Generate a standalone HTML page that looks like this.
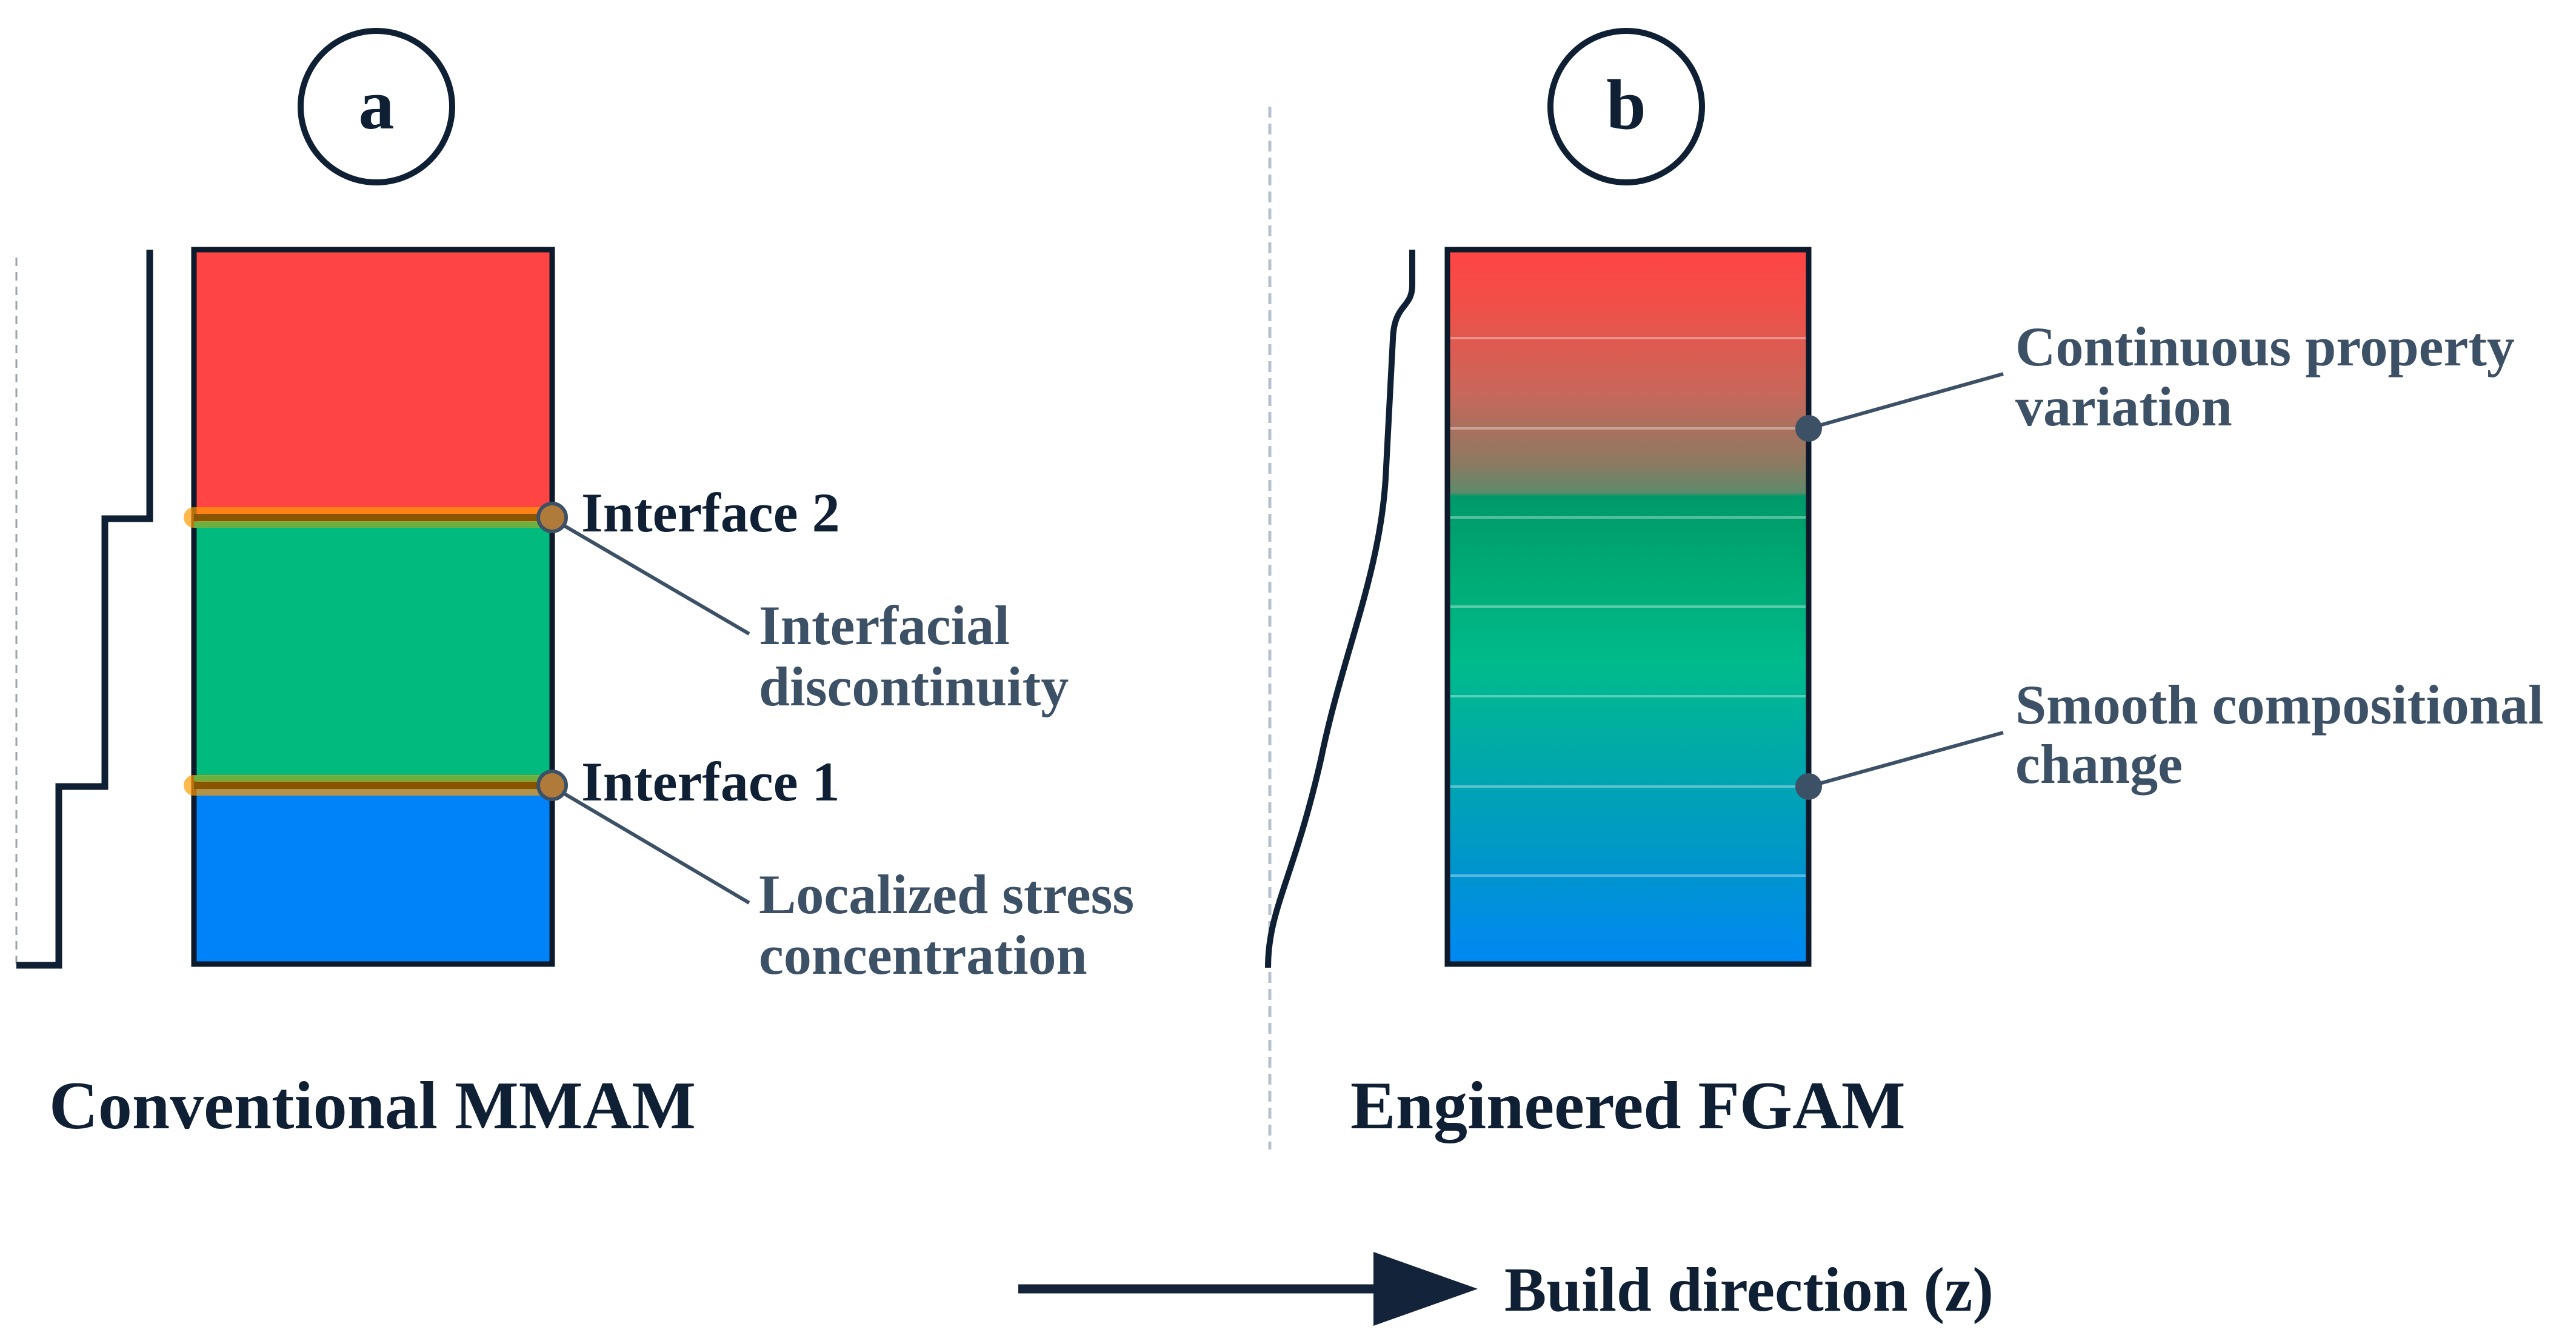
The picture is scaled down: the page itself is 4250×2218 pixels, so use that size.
<!DOCTYPE html>
<html><head><meta charset="utf-8"><style>
html,body{margin:0;padding:0;background:#fff;}
svg{display:block;}
text{font-family:"Liberation Serif",serif;font-weight:bold;}
</style></head><body>
<svg width="4250" height="2218" viewBox="0 0 4250 2218" xmlns="http://www.w3.org/2000/svg">
<defs>
<linearGradient id="g" x1="0" y1="0" x2="0" y2="1">
<stop offset="0" stop-color="#ff4444"/>
<stop offset="0.08" stop-color="#f05048"/>
<stop offset="0.2" stop-color="#c8675a"/>
<stop offset="0.3" stop-color="#8c7a62"/>
<stop offset="0.34" stop-color="#5e8a6a"/>
<stop offset="0.345" stop-color="#00996a"/>
<stop offset="0.45" stop-color="#00aa74"/>
<stop offset="0.58" stop-color="#00bb8c"/>
<stop offset="0.72" stop-color="#00a8ac"/>
<stop offset="0.86" stop-color="#0096cc"/>
<stop offset="1" stop-color="#0088f4"/>
</linearGradient>
</defs>

<circle cx="621" cy="176" r="125" fill="#fff" stroke="#0f2035" stroke-width="10"/>
<text x="621" y="212" font-size="118" fill="#0f2035" text-anchor="middle">a</text>
<circle cx="2683" cy="176" r="125" fill="#fff" stroke="#0f2035" stroke-width="10"/>
<text x="2683" y="212" font-size="118" fill="#0f2035" text-anchor="middle">b</text>

<line x1="27" y1="425" x2="27" y2="1590" stroke="#9aa3ad" stroke-width="3" stroke-dasharray="14,10"/>
<polyline points="247,412 247,856 173,856 173,1298 97,1298 97,1593 27,1593" fill="none" stroke="#0f2035" stroke-width="11"/>
<rect x="320" y="412" width="591" height="444" fill="#ff4444"/>
<rect x="320" y="856" width="591" height="442" fill="#00ba7e"/>
<rect x="320" y="1298" width="591" height="293" fill="#0083f8"/>
<rect x="320" y="412" width="591" height="1179" fill="none" stroke="#0d1a2c" stroke-width="9"/>
<g>
<line x1="320" y1="854" x2="908" y2="854" stroke="#ff9a00" stroke-opacity="0.7" stroke-width="34" stroke-linecap="round"/>
<line x1="320" y1="854" x2="908" y2="854" stroke="#8a5500" stroke-width="12"/>
<rect x="320" y="861" width="588" height="10" fill="#6ab040"/>
<line x1="320" y1="1296" x2="908" y2="1296" stroke="#ff9a00" stroke-opacity="0.7" stroke-width="34" stroke-linecap="round"/>
<line x1="320" y1="1296" x2="908" y2="1296" stroke="#8a5500" stroke-width="12"/>
<rect x="320" y="1280" width="588" height="9" fill="#6ab040"/>
</g>
<line x1="911" y1="856" x2="1236" y2="1046" stroke="#3d5166" stroke-width="6"/>
<line x1="911" y1="1298" x2="1236" y2="1490" stroke="#3d5166" stroke-width="6"/>
<circle cx="911" cy="854" r="23" fill="#b07a3a" stroke="#3d5166" stroke-width="6"/>
<circle cx="911" cy="1296" r="23" fill="#b07a3a" stroke="#3d5166" stroke-width="6"/>

<text x="959" y="877" font-size="92" fill="#0f2035">Interface 2</text>
<text x="959" y="1321" font-size="92" fill="#0f2035">Interface 1</text>
<text font-size="92" fill="#3d5166"><tspan x="1252" y="1063">Interfacial</tspan><tspan x="1252" y="1164">discontinuity</tspan></text>
<text font-size="92" fill="#3d5166"><tspan x="1252" y="1507">Localized stress</tspan><tspan x="1252" y="1607">concentration</tspan></text>
<text x="81" y="1862" font-size="112" fill="#0f2035">Conventional MMAM</text>

<line x1="2095" y1="176" x2="2095" y2="1897" stroke="#b4c2d0" stroke-width="5" stroke-dasharray="18,10"/>
<path d="M2330,412 L2330,470 C2330,510 2300,500 2298,560 L2286,790 C2276,950 2215,1080 2180,1250 C2135,1450 2092,1500 2092,1597" fill="none" stroke="#0f2035" stroke-width="10"/>
<rect x="2388" y="412" width="596" height="1179" fill="url(#g)"/>
<g stroke="#ffffff" stroke-opacity="0.35" stroke-width="4">
<line x1="2392" y1="558" x2="2980" y2="558"/>
<line x1="2392" y1="707" x2="2980" y2="707"/>
<line x1="2392" y1="854" x2="2980" y2="854"/>
<line x1="2392" y1="1001" x2="2980" y2="1001"/>
<line x1="2392" y1="1149" x2="2980" y2="1149"/>
<line x1="2392" y1="1298" x2="2980" y2="1298"/>
<line x1="2392" y1="1445" x2="2980" y2="1445"/>
</g>
<rect x="2388" y="412" width="596" height="1179" fill="none" stroke="#0d1a2c" stroke-width="9"/>
<line x1="2984" y1="707" x2="3305" y2="617" stroke="#3d5166" stroke-width="6"/>
<line x1="2984" y1="1298" x2="3305" y2="1209" stroke="#3d5166" stroke-width="6"/>
<circle cx="2984" cy="707" r="22" fill="#3d5166"/>
<circle cx="2984" cy="1298" r="22" fill="#3d5166"/>
<text font-size="92" fill="#3d5166"><tspan x="3325" y="603">Continuous property</tspan><tspan x="3325" y="702">variation</tspan></text>
<text font-size="92" fill="#3d5166"><tspan x="3325" y="1194">Smooth compositional</tspan><tspan x="3325" y="1292">change</tspan></text>
<text x="2228" y="1862" font-size="112" fill="#0f2035">Engineered FGAM</text>

<line x1="1680" y1="2127" x2="2275" y2="2127" stroke="#13233a" stroke-width="15"/>
<polygon points="2266,2066 2438,2127 2266,2188" fill="#13233a"/>
<text x="2482" y="2163" font-size="104" fill="#0f2035">Build direction (z)</text>
</svg>
</body></html>
